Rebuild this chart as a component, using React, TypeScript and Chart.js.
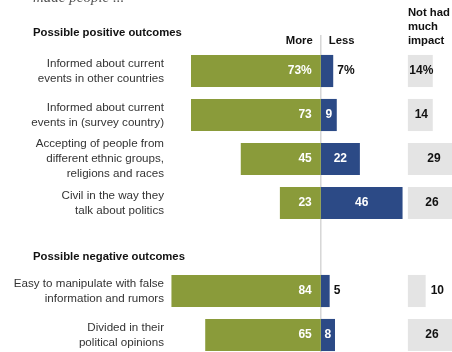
import React, { useEffect, useRef } from 'react';
import { Chart, registerables } from 'chart.js';

Chart.register(...registerables);

// Slots: section header rows and data rows
const slotIds = ['h1', 'r1', 'r2', 'r3', 'r4', 'h2', 'r5', 'r6'];
const sectionHeaders = ['Possible positive outcomes', '', '', '', '', 'Possible negative outcomes', '', ''];
const rowLabels: string[][] = [
  [],
  ['Informed about current', 'events in other countries'],
  ['Informed about current', 'events in (survey country)'],
  ['Accepting of people from', 'different ethnic groups,', 'religions and races'],
  ['Civil in the way they', 'talk about politics'],
  [],
  ['Easy to manipulate with false', 'information and rumors'],
  ['Divided in their', 'political opinions'],
];
const moreValues: (number | null)[] = [null, 73, 73, 45, 23, null, 84, 65];
const lessValues: (number | null)[] = [null, 7, 9, 22, 46, null, 5, 8];
const noImpactValues: (number | null)[] = [null, 14, 14, 29, 26, null, 10, 26];
const percentRowIndex = 1;
const subtitle = 'made people ...';
const moreLabel = 'More';
const lessLabel = 'Less';
const noImpactLabel = ['Not had', 'much', 'impact'];

const GREEN = '#8a9b3a';
const BLUE = '#2c4a86';
const GREY = '#e4e4e4';
const NO_IMPACT_START = 49;
const FONT = '"Liberation Sans", Arial, sans-serif';

export default function App() {
  const ref = useRef<HTMLCanvasElement | null>(null);

  useEffect(() => {
    if (!ref.current) return;
    const fmt = (v: number, i: number) => (i === percentRowIndex ? `${v}%` : `${v}`);

    const overlay = {
      id: 'overlay',
      beforeDatasetsDraw(chart: any) {
        const ctx = chart.ctx;
        const x = chart.scales.x;
        const y = chart.scales.y;
        const x0 = x.getPixelForValue(0);
        ctx.save();
        ctx.strokeStyle = '#d6d6d6';
        ctx.lineWidth = 1.5;
        ctx.beginPath();
        ctx.moveTo(x0, y.getPixelForValue(0) + 8);
        ctx.lineTo(x0, chart.height);
        ctx.stroke();
        ctx.restore();
      },
      afterDatasetsDraw(chart: any) {
        const ctx = chart.ctx;
        const x = chart.scales.x;
        const y = chart.scales.y;
        const x0 = x.getPixelForValue(0);
        const area = chart.chartArea;
        const labelRight = area.left + 21;
        ctx.save();

        // subtitle
        ctx.fillStyle = '#555';
        ctx.font = `italic 15px "Liberation Serif", Georgia, serif`;
        ctx.textAlign = 'left';
        ctx.textBaseline = 'alphabetic';
        ctx.fillText(subtitle, 33, 2);
        ctx.textBaseline = 'middle';

        // column headers
        ctx.fillStyle = '#111';
        ctx.font = `bold 11.3px ${FONT}`;
        const hy = y.getPixelForValue(0) + 14;
        ctx.textAlign = 'right';
        ctx.fillText(moreLabel, x0 - 8, hy);
        ctx.textAlign = 'left';
        ctx.fillText(lessLabel, x0 + 8, hy);
        const gx = x.getPixelForValue(NO_IMPACT_START);
        noImpactLabel.forEach((t, k) => ctx.fillText(t, gx, hy - 28 + k * 14));

        slotIds.forEach((_, i) => {
          const cy = y.getPixelForValue(i);
          if (sectionHeaders[i]) {
            ctx.fillStyle = '#111';
            ctx.font = `bold 11.3px ${FONT}`;
            ctx.textAlign = 'left';
            ctx.fillText(sectionHeaders[i], 33, cy + (i === 0 ? 6 : 10));
          }
          const lines = rowLabels[i];
          if (lines.length) {
            ctx.fillStyle = '#333';
            ctx.font = `11.6px ${FONT}`;
            ctx.textAlign = 'right';
            const lh = 15;
            lines.forEach((t, k) => ctx.fillText(t, labelRight, cy + (k - (lines.length - 1) / 2) * lh));
          }
          ctx.font = `bold 12px ${FONT}`;
          const m = moreValues[i];
          if (m != null) {
            ctx.fillStyle = '#fff';
            ctx.textAlign = 'right';
            ctx.fillText(fmt(m, i), x0 - 9, cy);
          }
          const l = lessValues[i];
          if (l != null) {
            const txt = fmt(l, i);
            const w = ctx.measureText(txt).width;
            const end = x.getPixelForValue(l);
            if (w + 4 > end - x0) {
              ctx.fillStyle = '#111';
              ctx.textAlign = 'left';
              ctx.fillText(txt, end + 4, cy);
            } else {
              ctx.fillStyle = '#fff';
              ctx.textAlign = 'center';
              ctx.fillText(txt, (x0 + end) / 2, cy);
            }
          }
          const n = noImpactValues[i];
          if (n != null) {
            const txt = fmt(n, i);
            const s = x.getPixelForValue(NO_IMPACT_START);
            const e = Math.min(x.getPixelForValue(NO_IMPACT_START + n), 458);
            ctx.fillStyle = '#111';
            if (n <= 10) {
              ctx.textAlign = 'left';
              ctx.fillText(txt, e + 5, cy);
            } else {
              ctx.textAlign = 'center';
              ctx.fillText(txt, (s + e) / 2 + 1, cy);
            }
          }
        });
        ctx.restore();
      },
    };

    const common = { grouped: false, barPercentage: 0.73, categoryPercentage: 1, borderWidth: 0 };
    const chart = new Chart(ref.current, {
      type: 'bar',
      data: {
        labels: slotIds,
        datasets: [
          { ...common, label: 'More', data: moreValues.map((v) => (v == null ? null : -v)), backgroundColor: GREEN },
          { ...common, label: 'Less', data: lessValues, backgroundColor: BLUE },
          {
            ...common,
            label: 'Not had much impact',
            data: noImpactValues.map((v) => (v == null ? null : [NO_IMPACT_START, NO_IMPACT_START + v])) as any,
            backgroundColor: GREY,
          },
        ],
      },
      options: {
        indexAxis: 'y',
        animation: false,
        responsive: false,
        maintainAspectRatio: false,
        layout: { padding: { left: 143, right: 7, top: 5, bottom: 3 } },
        scales: {
          x: { type: 'linear', min: -100, max: 80, display: false },
          y: { type: 'category', display: false },
        },
        plugins: { legend: { display: false }, tooltip: { enabled: false } },
      },
      plugins: [overlay],
    } as any);
    return () => chart.destroy();
  }, []);

  return (
    <div style={{ position: 'fixed', left: 0, top: 0, width: 452, height: 352, overflow: 'hidden', background: '#fff' }}>
      <canvas ref={ref} width={470} height={360} style={{ display: 'block', width: 470, height: 360 }} />
    </div>
  );
}
